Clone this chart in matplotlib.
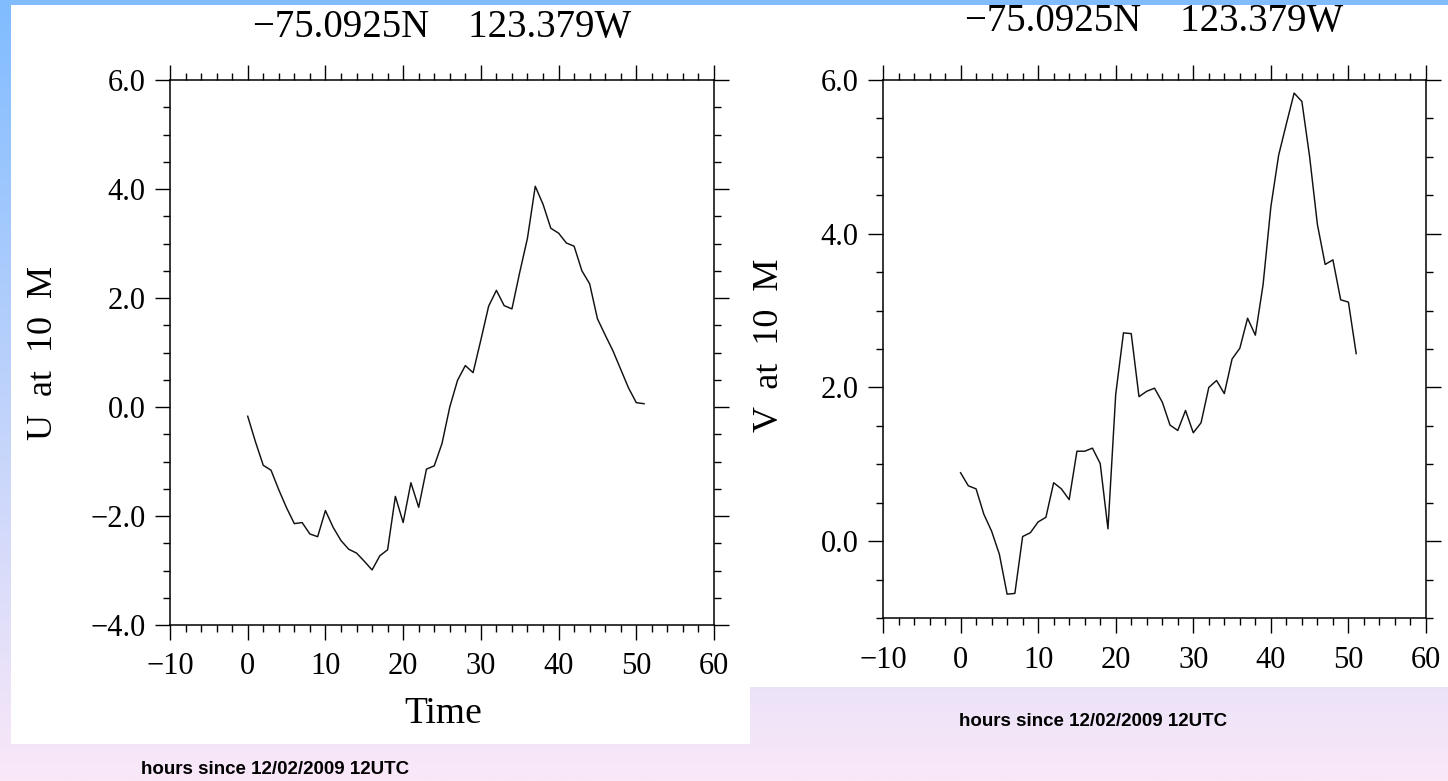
import numpy as np
import matplotlib
matplotlib.use('Agg')
import matplotlib.pyplot as plt
from matplotlib.patches import Rectangle
from matplotlib.ticker import MultipleLocator, FuncFormatter

plt.rcParams['font.family'] = ['Liberation Serif', 'DejaVu Serif']

# hours since 12/02/2009 12UTC
horas = np.arange(0, 52)

# vento a 10 m (m/s)
u10 = [-0.17, -0.64, -1.07, -1.16, -1.52, -1.85, -2.14, -2.12, -2.33, -2.38,
       -1.90, -2.21, -2.45, -2.61, -2.68, -2.83, -2.99, -2.73, -2.62, -1.64,
       -2.12, -1.39, -1.84, -1.14, -1.08, -0.67, 0.00, 0.49, 0.76, 0.63,
       1.23, 1.85, 2.14, 1.86, 1.80, 2.47, 3.10, 4.05, 3.72, 3.28,
       3.19, 3.01, 2.95, 2.50, 2.26, 1.62, 1.32, 1.03, 0.69, 0.35,
       0.08, 0.06]
v10 = [0.89, 0.72, 0.68, 0.35, 0.13, -0.17, -0.69, -0.68, 0.06, 0.11,
       0.25, 0.31, 0.76, 0.68, 0.54, 1.17, 1.17, 1.21, 1.01, 0.16,
       1.91, 2.71, 2.70, 1.88, 1.95, 1.99, 1.81, 1.51, 1.44, 1.70,
       1.41, 1.54, 2.00, 2.09, 1.92, 2.37, 2.51, 2.90, 2.68, 3.34,
       4.35, 5.02, 5.43, 5.83, 5.72, 5.00, 4.12, 3.60, 3.66, 3.14,
       3.11, 2.44]

titulo = '\u221275.0925N    123.379W'
legenda = 'hours since 12/02/2009 12UTC'

W, H = 1448, 781
fig = plt.figure(figsize=(W / 100, H / 100), dpi=100)


def caixa(x0, y0, x1, y1):
    # retangulo em pixels -> fracao da figura
    return [x0 / W, 1 - y1 / H, (x1 - x0) / W, (y1 - y0) / H]


# fundo em degrade (azul -> lilas)
fundo = fig.add_axes([0, 0, 1, 1])
topo = np.array([128, 188, 255]) / 255
base = np.array([250, 232, 248]) / 255
t = np.linspace(0, 1, H)[:, None, None]
grad = topo * (1 - t) + base * t
grad = np.repeat(grad, 4, axis=1)
fundo.imshow(grad, extent=[0, W, H, 0], aspect='auto', interpolation='bilinear')
fundo.add_patch(Rectangle((11, 5), W - 11, 687 - 5, color='white', lw=0))
fundo.add_patch(Rectangle((11, 5), 750 - 11, 744 - 5, color='white', lw=0))
fundo.set_xlim(0, W)
fundo.set_ylim(H, 0)
fundo.axis('off')

# rotulos do eixo y com sinal de menos tipografico
fmt_y = FuncFormatter(lambda v, pos: ('%.1f' % v).replace('-', '\u2212'))


def painel(pos, y, ylim):
    ax = fig.add_axes(pos)
    ax.plot(horas, y, color='#111111', lw=1.05)
    ax.set_xlim(-10, 60)
    ax.set_ylim(*ylim)
    ax.xaxis.set_major_locator(MultipleLocator(10))
    ax.xaxis.set_minor_locator(MultipleLocator(2))
    ax.yaxis.set_major_locator(MultipleLocator(2))
    ax.yaxis.set_minor_locator(MultipleLocator(0.5))
    ax.yaxis.set_major_formatter(fmt_y)
    ax.tick_params(which='both', direction='out', top=True, right=True,
                   width=1.0, color='black')
    ax.tick_params(which='major', length=10.8, labelsize=22)
    ax.tick_params(which='minor', length=5)
    ax.tick_params(axis='x', pad=9)
    ax.tick_params(axis='y', pad=7)
    for s in ax.spines.values():
        s.set_linewidth(1.1)
    return ax


ax1 = painel(caixa(170, 80, 714, 625), u10, (-4, 6))
ax2 = painel(caixa(883, 80, 1426, 618), v10, (-1, 6))

# titulos e rotulos
fundo.text(442, 27, titulo, fontsize=28, ha='center', va='center')
fundo.text(1154, 22, titulo, fontsize=28, ha='center', va='center')
fundo.text(43, 353, 'U  at  10  M', fontsize=26, rotation=90, ha='center', va='center')
fundo.text(770, 345, 'V  at  10  M', fontsize=26, rotation=90, ha='center', va='center')
fundo.text(443, 714, 'Time', fontsize=27, ha='center', va='center')
fundo.text(275, 770, legenda, fontsize=13.5, fontweight='bold', family='Liberation Sans',
           ha='center', va='center')
fundo.text(1093, 721, legenda, fontsize=13.5, fontweight='bold', family='Liberation Sans',
           ha='center', va='center')

fig.savefig('out.png', dpi=100)
